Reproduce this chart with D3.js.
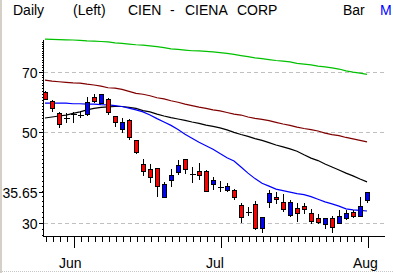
<!DOCTYPE html>
<html>
<head>
<meta charset="utf-8">
<script src="https://cdn.jsdelivr.net/npm/d3@7"></script>
<style>
  html, body { margin: 0; padding: 0; background: #fff; }
  svg { display: block; }
  text { font-family: "Liberation Sans", Arial, sans-serif; font-size: 14px; }
</style>
</head>
<body>
<div class="chart"></div>
<script>
// Trading days, late May to Aug 1
var dates = ["2001-05-25", "2001-05-29", "2001-05-30", "2001-05-31",
  "2001-06-01", "2001-06-04", "2001-06-05", "2001-06-06", "2001-06-07", "2001-06-08",
  "2001-06-11", "2001-06-12", "2001-06-13", "2001-06-14", "2001-06-15",
  "2001-06-18", "2001-06-19", "2001-06-20", "2001-06-21", "2001-06-22",
  "2001-06-25", "2001-06-26", "2001-06-27", "2001-06-28", "2001-06-29",
  "2001-07-02", "2001-07-03", "2001-07-05", "2001-07-06",
  "2001-07-09", "2001-07-10", "2001-07-11", "2001-07-12", "2001-07-13",
  "2001-07-16", "2001-07-17", "2001-07-18", "2001-07-19", "2001-07-20",
  "2001-07-23", "2001-07-24", "2001-07-25", "2001-07-26", "2001-07-27",
  "2001-07-30", "2001-07-31", "2001-08-01"];

var opens  = [62.6, 59.5, 55.6, 54.1, 55.3, 55.0, 55.3, 60.7, 59.0, 60.1, 54.6, 50.8, 53.5, 47.8, 41.9, 40.6,
  40.8, 34.7, 38.1, 40.0, 42.9, 39.6, 40.2, 40.2, 37.4, 36.8, 36.1, 36.1, 33.2, 32.0, 33.3, 29.2,
  33.8, 34.8, 33.8, 31.4, 32.6, 33.0, 31.8, 30.9, 29.9, 30.8, 30.0, 30.9, 32.0, 31.2, 34.1];
var highs  = [63.0, 59.9, 55.9, 55.6, 55.9, 56.3, 60.8, 61.9, 62.0, 60.4, 54.8, 54.0, 53.8, 47.9, 42.9, 41.9,
  40.9, 37.8, 40.7, 42.8, 43.0, 41.1, 42.0, 40.4, 38.9, 37.9, 37.5, 36.3, 33.5, 32.9, 34.0, 31.0,
  36.2, 35.7, 35.3, 34.1, 33.6, 33.5, 32.4, 31.5, 30.9, 31.2, 32.3, 32.3, 32.3, 34.7, 35.8];
var lows   = [59.8, 56.1, 51.2, 52.6, 52.6, 54.1, 54.8, 59.0, 58.8, 55.0, 51.5, 49.6, 47.8, 44.2, 39.1, 37.5,
  34.7, 34.5, 36.8, 39.2, 39.6, 37.6, 38.1, 35.7, 36.1, 35.7, 35.7, 34.2, 30.0, 31.2, 28.9, 28.4,
  32.6, 33.4, 32.0, 31.1, 30.2, 31.5, 29.9, 29.9, 29.0, 28.4, 29.9, 30.5, 30.8, 31.1, 33.5];
var closes = [60.1, 57.2, 52.3, 54.1, 55.3, 55.0, 59.3, 59.5, 61.8, 56.1, 52.9, 52.9, 48.7, 44.8, 40.2, 38.9,
  36.9, 37.4, 39.2, 41.5, 40.6, 39.6, 39.2, 36.0, 38.1, 36.8, 36.9, 34.7, 31.0, 32.0, 29.2, 31.0,
  35.5, 34.3, 32.4, 33.8, 31.7, 32.4, 30.4, 30.2, 30.8, 29.4, 31.3, 31.8, 31.3, 33.0, 35.65];

// Moving averages
var maBlue  = [58.8, 58.8, 58.8, 58.8, 58.6, 58.6, 58.5, 58.5, 58.3, 58.2, 58.0, 57.7, 57.2, 56.6, 56.0, 55.0,
  53.9, 52.9, 51.9, 50.7, 49.4, 48.3, 47.2, 46.3, 45.4, 44.3, 43.3, 42.5, 41.1, 39.7, 38.5, 37.5,
  36.9, 36.3, 36.0, 35.7, 35.4, 35.2, 34.8, 34.3, 33.8, 33.4, 33.0, 32.5, 32.3, 32.2, 32.1];
var maBlack = [54.1, 54.4, 54.7, 55.0, 55.5, 56.0, 56.6, 57.1, 57.4, 57.6, 57.7, 57.7, 57.4, 57.1, 56.4, 56.0,
  55.3, 54.7, 54.2, 53.8, 53.4, 52.9, 52.5, 52.0, 51.6, 51.2, 50.6, 49.9, 49.3, 48.8, 48.2, 47.7,
  47.1, 46.5, 46.0, 45.5, 44.9, 44.0, 43.2, 42.6, 41.8, 41.1, 40.4, 39.7, 39.1, 38.4, 37.8];
var maRed   = [66.9, 66.5, 66.3, 66.1, 65.9, 65.8, 65.4, 65.1, 64.7, 64.1, 64.0, 63.5, 62.8, 62.1, 61.8, 61.3,
  60.6, 60.2, 59.6, 59.1, 58.5, 58.0, 57.5, 57.1, 56.6, 56.3, 55.8, 55.3, 55.0, 54.4, 54.0, 53.7,
  53.3, 52.8, 52.3, 51.9, 51.4, 51.0, 50.7, 50.3, 49.7, 49.3, 49.0, 48.5, 48.1, 47.7, 47.3];
var maGreen = [84.2, 84.1, 84.0, 83.9, 83.8, 83.6, 83.4, 83.3, 83.1, 82.9, 82.5, 82.2, 81.9, 81.6, 81.4, 81.1,
  80.7, 80.3, 79.7, 79.5, 79.2, 78.9, 78.8, 78.6, 78.4, 78.1, 77.7, 77.3, 76.8, 76.3, 75.8, 75.5,
  75.1, 74.7, 74.4, 74.1, 73.5, 73.2, 72.9, 72.4, 72.1, 71.7, 71.2, 70.5, 70.0, 69.6, 69.1];

var gridValues = [70, 50, 30];
var monthTicks = ["2001-06-01", "2001-07-02", "2001-08-01"];
var monthLabels = ["Jun", "Jul", "Aug"];

var svgWidth = 393;
var svgHeight = 273;

var svg = d3.select(".chart")
  .append("svg")
  .attr("width", svgWidth)
  .attr("height", svgHeight);

// window frame bits
svg.append("rect").attr("x", 0).attr("y", 0).attr("width", 2).attr("height", svgHeight).attr("fill", "#d4d0c8");
svg.append("line")
  .attr("x1", 0).attr("x2", svgWidth).attr("y1", 271.5).attr("y2", 271.5)
  .attr("stroke", "#c8c8c8").attr("stroke-dasharray", "1,1");

var xScale = d3.scalePoint().domain(dates).range([45, 367]);
var yScale = d3.scaleLog().domain([27.9, 83.8]).range([236, 40]);

// header
var header = svg.append("g").attr("transform", "translate(0,15)");
header.append("text").attr("x", 13).text("Daily");
header.append("text").attr("x", 73).text("(Left)");
header.append("text").attr("x", 128).text("CIEN");
header.append("text").attr("x", 170).text("-");
header.append("text").attr("x", 185).text("CIENA");
header.append("text").attr("x", 237).text("CORP");
header.append("text").attr("x", 343).text("Bar");
header.append("text").attr("x", 380).attr("fill", "#0000ff").text("M");

// grid
svg.selectAll(".grid")
  .data(gridValues)
  .enter().append("line")
  .attr("class", "grid")
  .attr("x1", 44).attr("x2", 386)
  .attr("y1", function(d) { return Math.round(yScale(d)) + 0.5; })
  .attr("y2", function(d) { return Math.round(yScale(d)) + 0.5; })
  .attr("stroke", "#c0c0c0")
  .attr("stroke-dasharray", "4,3")
  .attr("shape-rendering", "crispEdges");

// y axis
var minorVals = d3.range(28, 84);
var yAxisMinor = d3.axisLeft(yScale).tickValues(minorVals).tickSize(2).tickFormat("");
svg.append("g")
  .attr("transform", "translate(43.5,0)")
  .call(yAxisMinor)
  .call(function(g) { g.select(".domain").remove(); })
  .attr("shape-rendering", "crispEdges");

var lastClose = closes[closes.length - 1];
var labelVals = gridValues.concat([lastClose]);
var yAxisMajor = d3.axisLeft(yScale).tickValues(labelVals).tickSize(5).tickPadding(1)
  .tickFormat(function(d) { return d === lastClose ? d.toFixed(2) : d; });
var yAxisG = svg.append("g")
  .attr("transform", "translate(43.5,0)")
  .call(yAxisMajor)
  .attr("shape-rendering", "crispEdges");
yAxisG.select(".domain").remove();
yAxisG.selectAll("text")
  .attr("font-family", "Liberation Sans, Arial, sans-serif")
  .attr("font-size", "14px")
  .attr("fill", "#000")
  .attr("dy", "0.38em");
yAxisG.selectAll("line").attr("stroke", "#000");

svg.append("line")
  .attr("x1", 43.5).attr("x2", 43.5).attr("y1", 40).attr("y2", 236)
  .attr("stroke", "#000").attr("shape-rendering", "crispEdges");

// x axis
var xAxisMinor = d3.axisBottom(xScale).tickSize(5).tickFormat("");
var xAxisG = svg.append("g")
  .attr("transform", "translate(0.5,236.5)")
  .call(xAxisMinor)
  .attr("shape-rendering", "crispEdges");
xAxisG.select(".domain").remove();

svg.append("line")
  .attr("x1", 43).attr("x2", 385).attr("y1", 236.5).attr("y2", 236.5)
  .attr("stroke", "#000").attr("shape-rendering", "crispEdges");

var xAxisMonths = d3.axisBottom(xScale).tickValues(monthTicks).tickSize(11)
  .tickFormat(function(d, i) { return monthLabels[i]; });
var monthG = svg.append("g")
  .attr("transform", "translate(0.5,236.5)")
  .call(xAxisMonths)
  .attr("shape-rendering", "crispEdges");
monthG.select(".domain").remove();
monthG.selectAll("text")
  .attr("font-family", "Liberation Sans, Arial, sans-serif")
  .attr("font-size", "14px")
  .attr("fill", "#000")
  .attr("text-anchor", "start")
  .attr("x", -15)
  .attr("y", 31)
  .attr("dy", 0);

// moving averages
var maSeries = [
  { values: maGreen, color: "#00c000" },
  { values: maRed, color: "#800000" },
  { values: maBlack, color: "#000000" },
  { values: maBlue, color: "#0000ff" }
];
var line = d3.line()
  .x(function(d, i) { return xScale(dates[i]); })
  .y(function(d) { return yScale(d); });

svg.selectAll(".ma")
  .data(maSeries)
  .enter().append("path")
  .attr("class", "ma")
  .attr("d", function(s) { return line(s.values); })
  .attr("fill", "none")
  .attr("stroke", function(s) { return s.color; })
  .attr("stroke-width", 1.2);

// candles
var candles = dates.map(function(d, i) {
  return { date: d, open: opens[i], high: highs[i], low: lows[i], close: closes[i] };
});

var candleG = svg.selectAll(".candle")
  .data(candles)
  .enter().append("g")
  .attr("class", "candle")
  .attr("shape-rendering", "crispEdges");

candleG.append("line")
  .attr("x1", function(d) { return xScale(d.date) + 0.5; })
  .attr("x2", function(d) { return xScale(d.date) + 0.5; })
  .attr("y1", function(d) { return yScale(d.high); })
  .attr("y2", function(d) { return yScale(d.low); })
  .attr("stroke", "#000");

candleG.filter(function(d) { return Math.abs(d.open - d.close) < 0.05; })
  .append("line")
  .attr("x1", function(d) { return xScale(d.date) - 2.5; })
  .attr("x2", function(d) { return xScale(d.date) + 3.5; })
  .attr("y1", function(d) { return Math.round(yScale(d.close)) + 0.5; })
  .attr("y2", function(d) { return Math.round(yScale(d.close)) + 0.5; })
  .attr("stroke", "#000");

candleG.filter(function(d) { return Math.abs(d.open - d.close) >= 0.05; })
  .append("rect")
  .attr("x", function(d) { return xScale(d.date) - 1.5; })
  .attr("width", 4)
  .attr("y", function(d) { return Math.round(yScale(Math.max(d.open, d.close))) + 0.5; })
  .attr("height", function(d) {
    return Math.max(1, Math.round(yScale(Math.min(d.open, d.close))) - Math.round(yScale(Math.max(d.open, d.close))));
  })
  .attr("fill", function(d) { return d.close > d.open ? "#0000ff" : "#ff0000"; })
  .attr("stroke", "#000");
</script>
</body>
</html>
